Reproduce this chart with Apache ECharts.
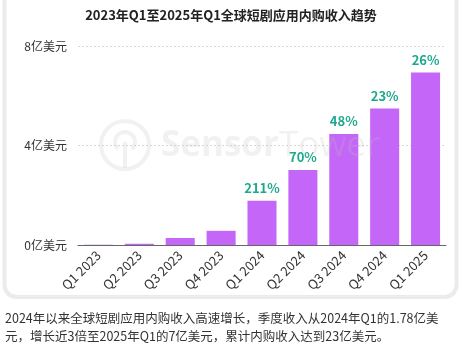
<!DOCTYPE html>
<html>
<head>
<meta charset="utf-8">
<script src="https://cdn.jsdelivr.net/npm/echarts@6/dist/echarts.min.js"></script>
<style>
  html, body { margin: 0; padding: 0; background: #fff; }
  #chart { width: 462px; height: 348px; }
</style>
</head>
<body>
<div id="chart"></div>
<script>
// Quarterly in-app purchase revenue of short-drama apps (hundred-million USD)
const quarters = ['Q1 2023', 'Q2 2023', 'Q3 2023', 'Q4 2023', 'Q1 2024', 'Q2 2024', 'Q3 2024', 'Q4 2024', 'Q1 2025'];
const revenue = [0.01, 0.05, 0.28, 0.57, 1.78, 3.02, 4.46, 5.49, 6.93];
const growthLabels = ['', '', '', '', '211%', '70%', '48%', '23%', '26%'];
const yTicks = [0, 4, 8];

const titleText = '2023年Q1至2025年Q1全球短剧应用内购收入趋势';
const noteLines = [
  '2024年以来全球短剧应用内购收入高速增长，季度收入从2024年Q1的1.78亿美',
  '元，增长近3倍至2025年Q1的7亿美元，累计内购收入达到23亿美元。'
];

const FONT = '"Noto Sans CJK SC", "Noto Sans", sans-serif';
const MARK = 'rgba(190,190,190,0.22)';
const chart = echarts.init(document.getElementById('chart'), null, { renderer: 'canvas' });

chart.setOption({
  backgroundColor: '#fff',
  animation: false,
  title: {
    text: titleText,
    left: 'center',
    top: 4,
    textStyle: { fontFamily: FONT, fontSize: 13, fontWeight: 'bold', color: '#222' }
  },
  graphic: [
    // card outline
    {
      type: 'rect', z: -10, silent: true,
      shape: { x: 4.5, y: -20, width: 452, height: 317, r: 12 },
      style: { fill: '#fff', stroke: '#ebebeb', lineWidth: 4 }
    },
    // faint brand watermark drawn over the plot
    {
      type: 'group', z: 50, silent: true,
      children: [
        { type: 'circle', z: 50, shape: { cx: 125, cy: 145, r: 24 }, style: { fill: 'none', stroke: MARK, lineWidth: 4 } },
        { type: 'arc', z: 50, shape: { cx: 125, cy: 142, r: 10, startAngle: Math.PI * 0.75, endAngle: Math.PI * 2.25 }, style: { fill: 'none', stroke: MARK, lineWidth: 4 } },
        { type: 'line', z: 50, shape: { x1: 125, y1: 142, x2: 125, y2: 168 }, style: { stroke: MARK, lineWidth: 4 } },
        {
          type: 'text', z: 50, x: 161, y: 146,
          style: {
            text: '{b|Sensor}{r|Tower}', verticalAlign: 'middle',
            rich: {
              b: { fontFamily: '"Open Sans", sans-serif', fontSize: 35, fontWeight: 'bold', fill: MARK },
              r: { fontFamily: '"Open Sans", sans-serif', fontSize: 35, fontWeight: 'normal', fill: MARK }
            }
          }
        }
      ]
    },
    {
      type: 'text', left: 5, top: 312, z: 5, silent: true,
      style: { text: noteLines[0], fontFamily: FONT, fontSize: 12.5, fill: '#333' }
    },
    {
      type: 'text', left: 5, top: 330, z: 5, silent: true,
      style: { text: noteLines[1], fontFamily: FONT, fontSize: 12.5, fill: '#333' }
    }
  ],
  grid: { left: 78, right: 16, top: 46, bottom: 103, containLabel: false },
  xAxis: {
    type: 'category',
    data: quarters,
    axisLine: { show: true, lineStyle: { color: '#666', width: 1 } },
    axisTick: { show: false },
    axisLabel: { rotate: 45, interval: 0, fontFamily: FONT, fontSize: 13, color: '#333', margin: 8 }
  },
  yAxis: {
    type: 'value',
    min: yTicks[0],
    max: yTicks[yTicks.length - 1],
    interval: yTicks[1] - yTicks[0],
    axisLine: { show: false },
    axisTick: { show: false },
    splitLine: { lineStyle: { color: '#d8d8d8', type: [2, 2], width: 1 } },
    axisLabel: { formatter: '{value}亿美元', fontFamily: FONT, fontSize: 12, color: '#333', margin: 11 }
  },
  series: [{
    type: 'bar',
    data: revenue,
    barCategoryGap: '29%',
    itemStyle: { color: '#c466f7' },
    z: 3,
    label: {
      show: true,
      position: 'top',
      distance: 6,
      formatter: p => growthLabels[p.dataIndex],
      fontFamily: FONT,
      fontSize: 13,
      fontWeight: 'bold',
      color: '#1ea88e'
    }
  }]
});
</script>
</body>
</html>
